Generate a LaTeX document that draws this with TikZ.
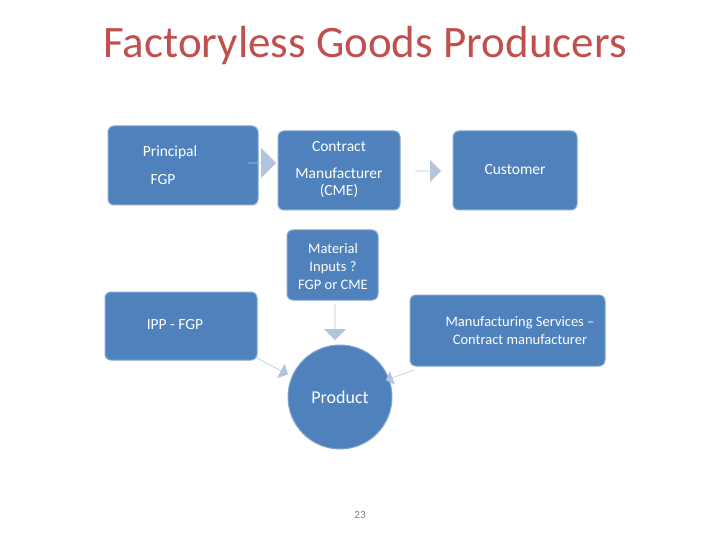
\documentclass[tikz,border=0pt]{standalone}
\usepackage{fontspec}
\setmainfont{Carlito}
\usetikzlibrary{shapes.arrows}
\definecolor{boxblue}{HTML}{4F81BD}
\definecolor{arrblue}{HTML}{B4C3DC}
\definecolor{titlered}{HTML}{C0504D}
\tikzset{
 box/.style={rounded corners=6pt,fill=boxblue,draw=boxblue!70!white,line width=1pt},
 txt/.style={text=white,font=\fontsize{15.5}{19}\selectfont,align=center},
 barrow/.style={single arrow,fill=arrblue,draw=none,single arrow head extend=5pt,inner sep=0pt,single arrow tip angle=90}
}
\begin{document}
\begin{tikzpicture}[x=1pt,y=-1pt]
\useasboundingbox (0,0) rectangle (720,540);
\node[text=titlered,font=\fontsize{45}{50}\selectfont] (title) at (365,46) {Factoryless Goods Producers};
\draw[box] (108,126) rectangle (258,205);
\node[txt] (p1) at (170,152) {Principal};
\node[txt] (p2) at (163,180) {FGP};
\draw[box] (278,131) rectangle (400,210);
\node[txt] (c1) at (339,147) {Contract};
\node[txt] (c2) at (339,183) {Manufacturer\\[-2pt](CME)};
\draw[box] (453,131) rectangle (577,210);
\node[txt] (cu) at (515,170) {Customer};
\draw[box] (287,230) rectangle (378,300);
\node[txt,font=\fontsize{14.5}{18}\selectfont] (mi) at (333,267) {Material\\Inputs ?\\FGP or CME};
\draw[box] (105,292) rectangle (257,360);
\node[txt] (ipp) at (175,325) {IPP - FGP};
\draw[box] (410,295) rectangle (605,366);
\node[txt,font=\fontsize{14.5}{18}\selectfont] (ms) at (520,331) {Manufacturing Services --\\Contract manufacturer};
\node[circle,fill=boxblue,draw=boxblue!70!white,line width=1pt,minimum size=104pt,inner sep=0pt,txt,font=\fontsize{18}{21}\selectfont] (prod) at (340,397) {Product};
\node[barrow,minimum height=28pt,minimum width=30pt,single arrow head extend=8pt] (a1) at (262,163) {};
\node[barrow,minimum height=26pt,minimum width=22pt,single arrow head extend=6pt] (a2) at (428,171) {};
\node[barrow,rotate=-90,minimum height=36pt,minimum width=22pt,single arrow head extend=5pt] (a3) at (335,322) {};
\node[barrow,rotate=-28,minimum height=36pt,minimum width=16pt,single arrow head extend=5pt] (a4) at (272,366) {};
\node[barrow,rotate=200,minimum height=30pt,minimum width=14pt,single arrow head extend=5pt] (a5) at (400,375) {};
\node[text=gray,font=\fontsize{11}{12}\selectfont] (pg) at (360,515) {23};
\end{tikzpicture}
\end{document}
